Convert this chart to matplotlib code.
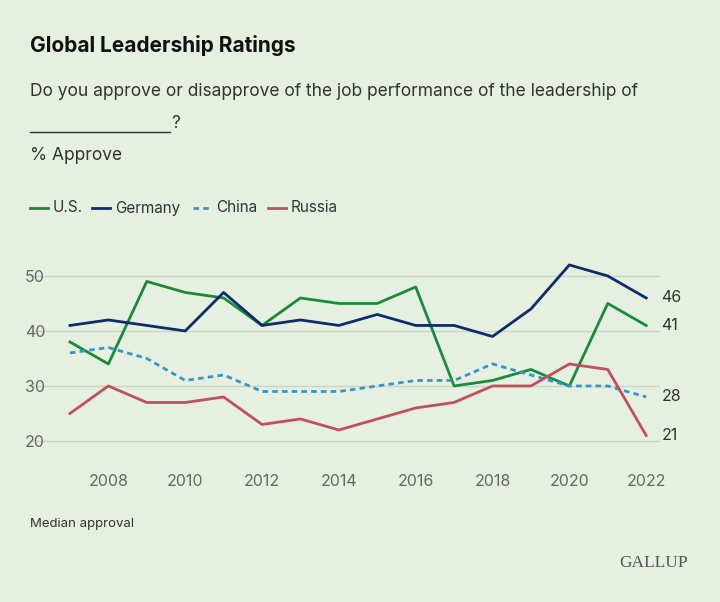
import matplotlib.pyplot as plt

years = list(range(2007, 2023))
us = [38, 34, 49, 47, 46, 41, 46, 45, 45, 48, 30, 31, 33, 30, 45, 41]
germany = [41, 42, 41, 40, 47, 41, 42, 41, 43, 41, 41, 39, 44, 52, 50, 46]
china = [36, 37, 35, 31, 32, 29, 29, 29, 30, 31, 31, 34, 32, 30, 30, 28]
russia = [25, 30, 27, 27, 28, 23, 24, 22, 24, 26, 27, 30, 30, 34, 33, 21]

bg = '#e5f0e1'
c_us = '#1a8a3a'
c_de = '#0c2c6b'
c_cn = '#3a94c8'
c_ru = '#c0505d'

W, H = 720, 602
plt.rcParams['font.family'] = ['Inter', 'DejaVu Sans']
fig = plt.figure(figsize=(7.2, 6.02), dpi=100, facecolor=bg)
ax = fig.add_axes([30 / W, 1 - 455 / H, 630 / W, 195 / H], facecolor=bg)

ax.plot(years, us, color=c_us, lw=2)
ax.plot(years, germany, color=c_de, lw=2)
ax.plot(years, china, color=c_cn, lw=2, ls=(0, (2, 1.5)))
ax.plot(years, russia, color=c_ru, lw=2)

for vals in [germany, us, china, russia]:
    ax.text(2022.4, vals[-1], str(vals[-1]), va='center', ha='left', fontsize=11.5, color='#333333')

ax.set_xlim(2005.96, 2022.36)
ax.set_ylim(17.45, 52.9)
ax.set_yticks([20, 30, 40, 50])
ax.set_xticks(range(2008, 2023, 2))
ax.grid(axis='y', color='#c9d6c5', lw=1)
for s in ax.spines.values():
    s.set_visible(False)
ax.tick_params(length=0, labelsize=11.5, colors='#666666')
ax.tick_params(axis='x', pad=14)
for lbl in ax.get_yticklabels():
    lbl.set_horizontalalignment('left')
    lbl.set_x(0.0)

def fy(py):
    return 1 - py / H

fig.text(30 / W, fy(46), 'Global Leadership Ratings', fontsize=15, fontweight='bold',
         color='#111111', va='center')
fig.text(30 / W, fy(92), 'Do you approve or disapprove of the job performance of the leadership of',
         fontsize=12.5, color='#333333', va='center')
fig.add_artist(plt.Line2D([30 / W, 170 / W], [fy(132), fy(132)], color='#333333', lw=1))
fig.text(171 / W, fy(124), '?', fontsize=12.5, color='#333333', va='center')
fig.text(30 / W, fy(155), '% Approve', fontsize=12.5, color='#333333', va='center')

# legend
items = [('U.S.', c_us, '-', 30), ('Germany', c_de, '-', 92),
         ('China', c_cn, (0, (2, 1.5)), 193), ('Russia', c_ru, '-', 268)]
for name, col, ls, px in items:
    fig.add_artist(plt.Line2D([px / W, (px + 18) / W], [fy(208), fy(208)], color=col, lw=2, ls=ls))
    fig.text((px + 23) / W, fy(208), name, va='center', fontsize=11, color='#333333')

fig.text(30 / W, fy(524), 'Median approval', fontsize=9.5, color='#333333', va='center')
fig.text(688 / W, fy(563), 'GALLUP', fontsize=12.5, ha='right', va='center', color='#555555',
         family=['Liberation Serif', 'DejaVu Serif'])

fig.savefig('out.png', dpi=100, facecolor=bg)
